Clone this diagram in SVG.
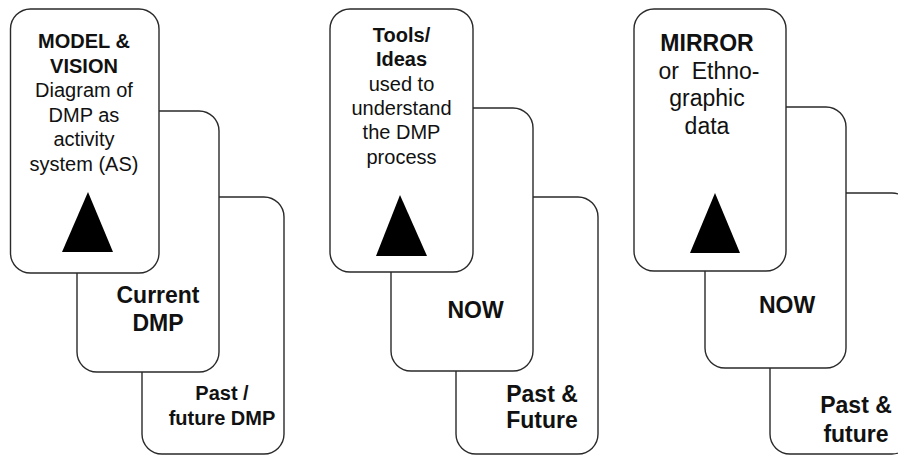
<svg xmlns="http://www.w3.org/2000/svg" width="898" height="456" viewBox="0 0 898 456">
  <style>
    .card { fill: #ffffff; stroke: #2a2a2a; stroke-width: 1.4; }
    .tri { fill: #000000; stroke: none; }
    text { font-family: "Liberation Sans", Arial, sans-serif; fill: #111111; text-anchor: middle; }
    .b { font-weight: bold; }
    .s20 { font-size: 20px; }
    .s23 { font-size: 23px; }
  </style>
  <rect width="898" height="456" fill="#ffffff"/>

  <!-- Column 1: model & vision stack (back card first) -->
  <g id="past-future-dmp">
    <rect class="card" x="142" y="197" width="142" height="257" rx="20" ry="20"/>
    <text class="b s20" x="222" y="400">Past /</text>
    <text class="b s20" x="222" y="425">future DMP</text>
  </g>
  <g id="current-dmp">
    <rect class="card" x="77" y="111" width="142" height="261" rx="20" ry="20"/>
    <text class="b s23" x="158" y="303">Current</text>
    <text class="b s23" x="158" y="331">DMP</text>
  </g>
  <g id="model-vision">
    <rect class="card" x="10.5" y="9" width="148.5" height="264" rx="20" ry="20"/>
    <text class="b s20" x="84" y="48">MODEL &amp;</text>
    <text class="b s20" x="84" y="72.5">VISION</text>
    <text class="s20" x="84" y="97">Diagram of</text>
    <text class="s20" x="84" y="121.5">DMP as</text>
    <text class="s20" x="84" y="146">activity</text>
    <text class="s20" x="84" y="170.5">system (AS)</text>
    <polygon class="tri" points="88,192 62,252 113,252"/>
  </g>

  <!-- Column 2: tools / ideas stack -->
  <g id="past-future-2">
    <rect class="card" x="456" y="197" width="142" height="257" rx="20" ry="20"/>
    <text class="b s23" x="542" y="402">Past &amp;</text>
    <text class="b s23" x="542" y="428">Future</text>
  </g>
  <g id="now-2">
    <rect class="card" x="391" y="108" width="142" height="263" rx="20" ry="20"/>
    <text class="b s23" x="475.5" y="318">NOW</text>
  </g>
  <g id="tools-ideas">
    <rect class="card" x="330" y="9" width="143" height="263" rx="20" ry="20"/>
    <text class="b s20" x="401.5" y="41.5">Tools/</text>
    <text class="b s20" x="401.5" y="66">Ideas</text>
    <text class="s20" x="401.5" y="90.5">used to</text>
    <text class="s20" x="401.5" y="115">understand</text>
    <text class="s20" x="401.5" y="139">the DMP</text>
    <text class="s20" x="401.5" y="163.5">process</text>
    <polygon class="tri" points="400,195 376,256 427,256"/>
  </g>

  <!-- Column 3: mirror stack (back card runs past the right edge) -->
  <g id="past-future-3">
    <rect class="card" x="770" y="193" width="142" height="261" rx="20" ry="20"/>
    <text class="b s23" x="856" y="413">Past &amp;</text>
    <text class="b s23" x="856" y="442">future</text>
  </g>
  <g id="now-3">
    <rect class="card" x="705" y="107" width="141" height="261" rx="20" ry="20"/>
    <text class="b s23" x="787" y="313">NOW</text>
  </g>
  <g id="mirror">
    <rect class="card" x="634" y="9" width="152" height="262" rx="20" ry="20"/>
    <text class="b s23" x="707" y="51">MIRROR</text>
    <text class="s23" x="709" y="78.5" xml:space="preserve">or  Ethno-</text>
    <text class="s23" x="707" y="106">graphic</text>
    <text class="s23" x="707" y="133.5">data</text>
    <polygon class="tri" points="715,193 690,253 740,253"/>
  </g>
</svg>
